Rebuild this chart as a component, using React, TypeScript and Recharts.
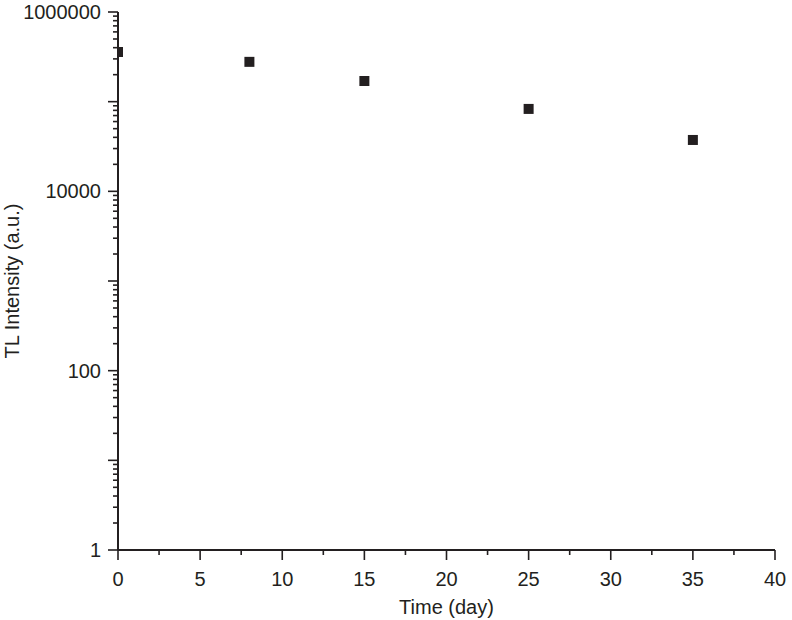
import React from 'react';
import { ScatterChart, Scatter, XAxis, YAxis } from 'recharts';

const days = [0, 8, 15, 25, 35];
const intensity = [358000, 278000, 170000, 83000, 37400];

const xMajorTicks = [0, 5, 10, 15, 20, 25, 30, 35, 40];
const xMinorTicks = [2.5, 7.5, 12.5, 17.5, 22.5, 27.5, 32.5, 37.5];
const yLabeledTicks = [1, 100, 10000, 1000000];
const yDecadeTicks = [1, 10, 100, 1000, 10000, 100000, 1000000];
const yMinorMultipliers = [2, 3, 4, 5, 6, 7, 8, 9];

const data = days.map((d, i) => ({ x: d, y: intensity[i] }));
const xTicks = [...xMajorTicks, ...xMinorTicks].sort((a, b) => a - b);
const yTicks = [
  ...yDecadeTicks,
  ...yDecadeTicks.slice(0, -1).flatMap((d) => yMinorMultipliers.map((m) => d * m)),
].sort((a, b) => a - b);

const INK = '#231f20';
const FONT = '"Liberation Sans", Arial, Helvetica, sans-serif';
const FS = 20;
const TICK = 10;
const MINOR = 5;
const XMARGIN = 12;
const YMARGIN = 7;

const XTick = (props: any) => {
  const { x, y, payload } = props;
  const v = payload.value;
  const axisY = y - TICK - XMARGIN;
  const major = xMajorTicks.includes(v);
  return (
    <g>
      <line x1={x} x2={x} y1={axisY} y2={axisY + (major ? TICK : MINOR)} stroke={INK} strokeWidth={1.6} />
      {major && (
        <text x={x} y={y} dy="0.71em" textAnchor="middle" fill={INK} fontSize={FS} fontFamily={FONT}>
          {v}
        </text>
      )}
    </g>
  );
};

const YTick = (props: any) => {
  const { x, y, payload } = props;
  const v = payload.value;
  const axisX = x + TICK + YMARGIN;
  const decade = yDecadeTicks.includes(v);
  const labeled = yLabeledTicks.includes(v);
  return (
    <g>
      <line x1={axisX - (decade ? TICK : MINOR)} x2={axisX} y1={y} y2={y} stroke={INK} strokeWidth={1.6} />
      {labeled && (
        <text x={x} y={y} dy="0.355em" textAnchor="end" fill={INK} fontSize={FS} fontFamily={FONT}>
          {v}
        </text>
      )}
    </g>
  );
};

const Square = (props: any) => {
  const { cx, cy } = props;
  return <rect x={cx - 5} y={cy - 5} width={10} height={10} fill={INK} />;
};

export default function App() {
  return (
    <div style={{ position: 'absolute', left: 0, top: 0, background: '#fff' }}>
      <ScatterChart width={792} height={620} margin={{ top: 12, right: 17, bottom: 10, left: 0 }}>
        <XAxis
          type="number"
          dataKey="x"
          domain={[0, 40]}
          ticks={xTicks}
          interval={0}
          allowDataOverflow
          tickSize={TICK}
          tickMargin={XMARGIN}
          tickLine={false}
          tick={<XTick />}
          height={60}
          axisLine={{ stroke: INK, strokeWidth: 2 }}
          label={{
            content: (p: any) => {
              const vb = p.viewBox;
              return (
                <text
                  x={vb.x + vb.width / 2}
                  y={vb.y + 64}
                  textAnchor="middle"
                  fill={INK}
                  fontSize={FS}
                  fontFamily={FONT}
                >
                  Time (day)
                </text>
              );
            },
          }}
        />
        <YAxis
          type="number"
          dataKey="y"
          scale="log"
          domain={[1, 1000000]}
          ticks={yTicks}
          interval={0}
          allowDataOverflow
          tickSize={TICK}
          tickMargin={YMARGIN}
          tickLine={false}
          tick={<YTick />}
          width={118}
          axisLine={{ stroke: INK, strokeWidth: 2 }}
          label={{
            content: (p: any) => {
              const vb = p.viewBox;
              const cx = vb.x + 12;
              const cy = vb.y + vb.height / 2;
              return (
                <text
                  x={cx}
                  y={cy}
                  dy="0.355em"
                  transform={`rotate(-90, ${cx}, ${cy})`}
                  textAnchor="middle"
                  fill={INK}
                  fontSize={FS}
                  fontFamily={FONT}
                >
                  TL Intensity (a.u.)
                </text>
              );
            },
          }}
        />
        <Scatter data={data} shape={<Square />} isAnimationActive={false} />
      </ScatterChart>
    </div>
  );
}
